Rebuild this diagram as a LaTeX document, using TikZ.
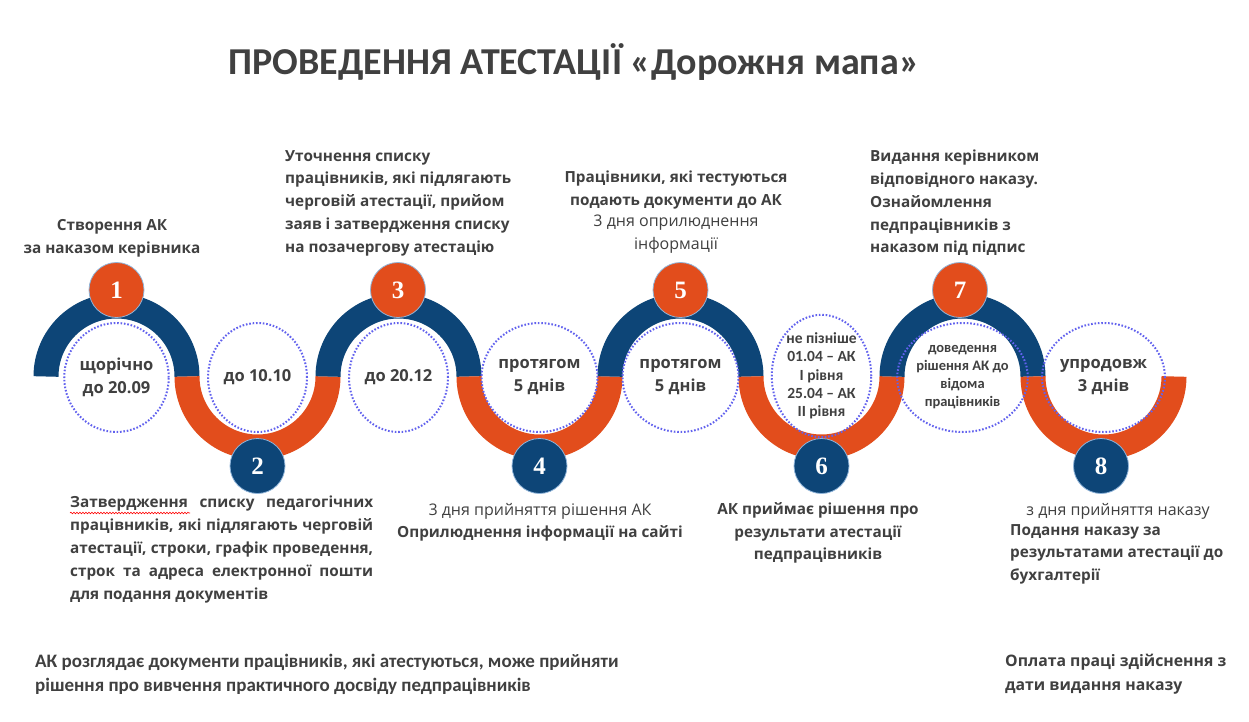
\documentclass[tikz,border=0pt]{standalone}
\usepackage{fontspec}
\setmainfont{Open Sans}
\newfontfamily\calfont{Carlito}
\newfontfamily\numfont{Liberation Serif}
\usetikzlibrary{shapes.geometric,decorations.pathmorphing}
\definecolor{navy}{HTML}{0D4577}
\definecolor{orng}{HTML}{E24D1C}
\definecolor{txt}{HTML}{404040}
\definecolor{dotc}{HTML}{6262EE}
\definecolor{rim}{HTML}{8FB4D9}
\begin{document}
\begin{tikzpicture}[x=1pt,y=-1pt,
  arcline/.style={line width=25pt},
  topnum/.style={circle,fill=orng,draw=rim,line width=0.8pt,minimum size=55pt,inner sep=0pt,text=white,font=\numfont\bfseries\fontsize{25}{25}\selectfont},
  botnum/.style={topnum,fill=navy},
  dotell/.style={ellipse,draw=dotc,line width=2pt,dash pattern=on 1.6pt off 1.8pt,minimum width=99pt,minimum height=109pt,inner sep=0pt,align=center,text=txt},
  intext/.style={font=\bfseries\fontsize{16.5}{23}\selectfont},
  smtext/.style={font=\calfont\bfseries\fontsize{15.5}{18.3}\selectfont},
  steptext/.style={text=txt,inner sep=0pt,font=\bfseries\fontsize{15.3}{22.8}\selectfont},
  regtext/.style={text=txt,inner sep=0pt,font=\fontsize{16}{22.8}\selectfont}
]
\useasboundingbox (0,0) rectangle (1249,722);
\fill[white] (0,0) rectangle (1249,722);

% title
\node[text=txt,inner sep=0pt,font=\calfont\bfseries\fontsize{38}{42}\selectfont] (title) at (574,62) {ПРОВЕДЕННЯ АТЕСТАЦІЇ «Дорожня мапа»};

% wave
\draw[arcline,navy] (46,376.5) arc[start angle=180,end angle=360,radius=70.5];
\draw[arcline,orng] (187,376.5) arc[start angle=180,end angle=0,radius=70.5];
\draw[arcline,navy] (328,376.5) arc[start angle=180,end angle=360,radius=70.5];
\draw[arcline,orng] (469,376.5) arc[start angle=180,end angle=0,radius=70.5];
\draw[arcline,navy] (610,376.5) arc[start angle=180,end angle=360,radius=70.5];
\draw[arcline,orng] (751,376.5) arc[start angle=180,end angle=0,radius=70.5];
\draw[arcline,navy] (892,376.5) arc[start angle=180,end angle=360,radius=70.5];
\draw[arcline,orng] (1033,376.5) arc[start angle=180,end angle=0,radius=70.5];

% number circles
\node[topnum] (n1) at (116.5,290) {1};
\node[botnum] (n2) at (257.5,466) {2};
\node[topnum] (n3) at (398,290) {3};
\node[botnum] (n4) at (539.5,466) {4};
\node[topnum] (n5) at (680.5,290) {5};
\node[botnum] (n6) at (821.5,466) {6};
\node[topnum] (n7) at (960,290) {7};
\node[botnum] (n8) at (1101,466) {8};

% dotted ellipses
\node[dotell,intext] (e1) at (116.5,377.5) {щорічно\\до 20.09};
\node[dotell,intext] (e2) at (257.5,377.5) {до 10.10};
\node[dotell,intext] (e3) at (398.5,377.5) {до 20.12};
\node[dotell,intext] (e4) at (539.5,377.5) {протягом\\5 днів};
\node[dotell,intext] (e5) at (680.5,377.5) {протягом\\5 днів};
\node[dotell,smtext] (e6) at (821.5,376) {не пізніше\\01.04 – АК\\I рівня\\25.04 – АК\\II рівня};
\node[dotell,smtext,font=\calfont\bfseries\fontsize{14.5}{18}\selectfont] (e7) at (962.5,377.5) {доведення\\рішення АК до\\відома\\працівників};
\node[dotell,intext] (e8) at (1103.5,377.5) {упродовж\\3 днів};

% step texts
\node[steptext,align=center] (t1) at (112,238) {Створення АК\\за наказом керівника};
\node[steptext,align=left,anchor=west] (t3) at (285,203) {Уточнення списку\\працівників, які підлягають\\черговій атестації, прийом\\заяв і затвердження списку\\на позачергову атестацію};
\node[steptext,align=center] (t5a) at (676,190) {Працівники, які тестуються\\подають документи до АК};
\node[regtext,align=center,anchor=north] (t5b) at (676,215) {3 дня оприлюднення\\інформації};
\node[steptext,align=left,anchor=west] (t7) at (870,203) {Видання керівником\\відповідного наказу.\\Ознайомлення\\педпрацівників з\\наказом під підпис};

\node[steptext,align=left,anchor=north west] (t2) at (70,496) {\makebox[303pt][s]{Затвердження списку педагогічних}\\\makebox[303pt][s]{працівників, які підлягають черговій}\\\makebox[303pt][s]{атестації, строки, графік проведення,}\\\makebox[303pt][s]{строк та адреса електронної пошти}\\для подання документів};
\draw[red,line width=0.6pt,decorate,decoration={snake,amplitude=0.8pt,segment length=3pt}] (70,513) -- (190,513);
\node[regtext,align=center] (t4a) at (540,511) {3 дня прийняття рішення АК};
\node[steptext,align=center] (t4b) at (540,533) {Оприлюднення інформації на сайті};
\node[steptext,align=center] (t6) at (818,533) {АК приймає рішення про\\результати атестації\\педпрацівників};
\node[regtext,align=center] (t8a) at (1118,511) {з дня прийняття наказу};
\node[steptext,align=left,anchor=north west] (t8b) at (1010,524) {Подання наказу за\\результатами атестації до\\бухгалтерії};

% bottom notes
\node[text=txt,inner sep=0pt,align=left,anchor=west,font=\calfont\bfseries\fontsize{19}{24}\selectfont] (b1) at (35,674) {АК розглядає документи працівників, які атестуються, може прийняти\\рішення про вивчення практичного досвіду педпрацівників};
\node[steptext,align=left,anchor=west,font=\bfseries\fontsize{15.8}{24}\selectfont] (b2) at (1005,674) {Оплата праці здійснення з\\дати видання наказу};
\end{tikzpicture}
\end{document}
